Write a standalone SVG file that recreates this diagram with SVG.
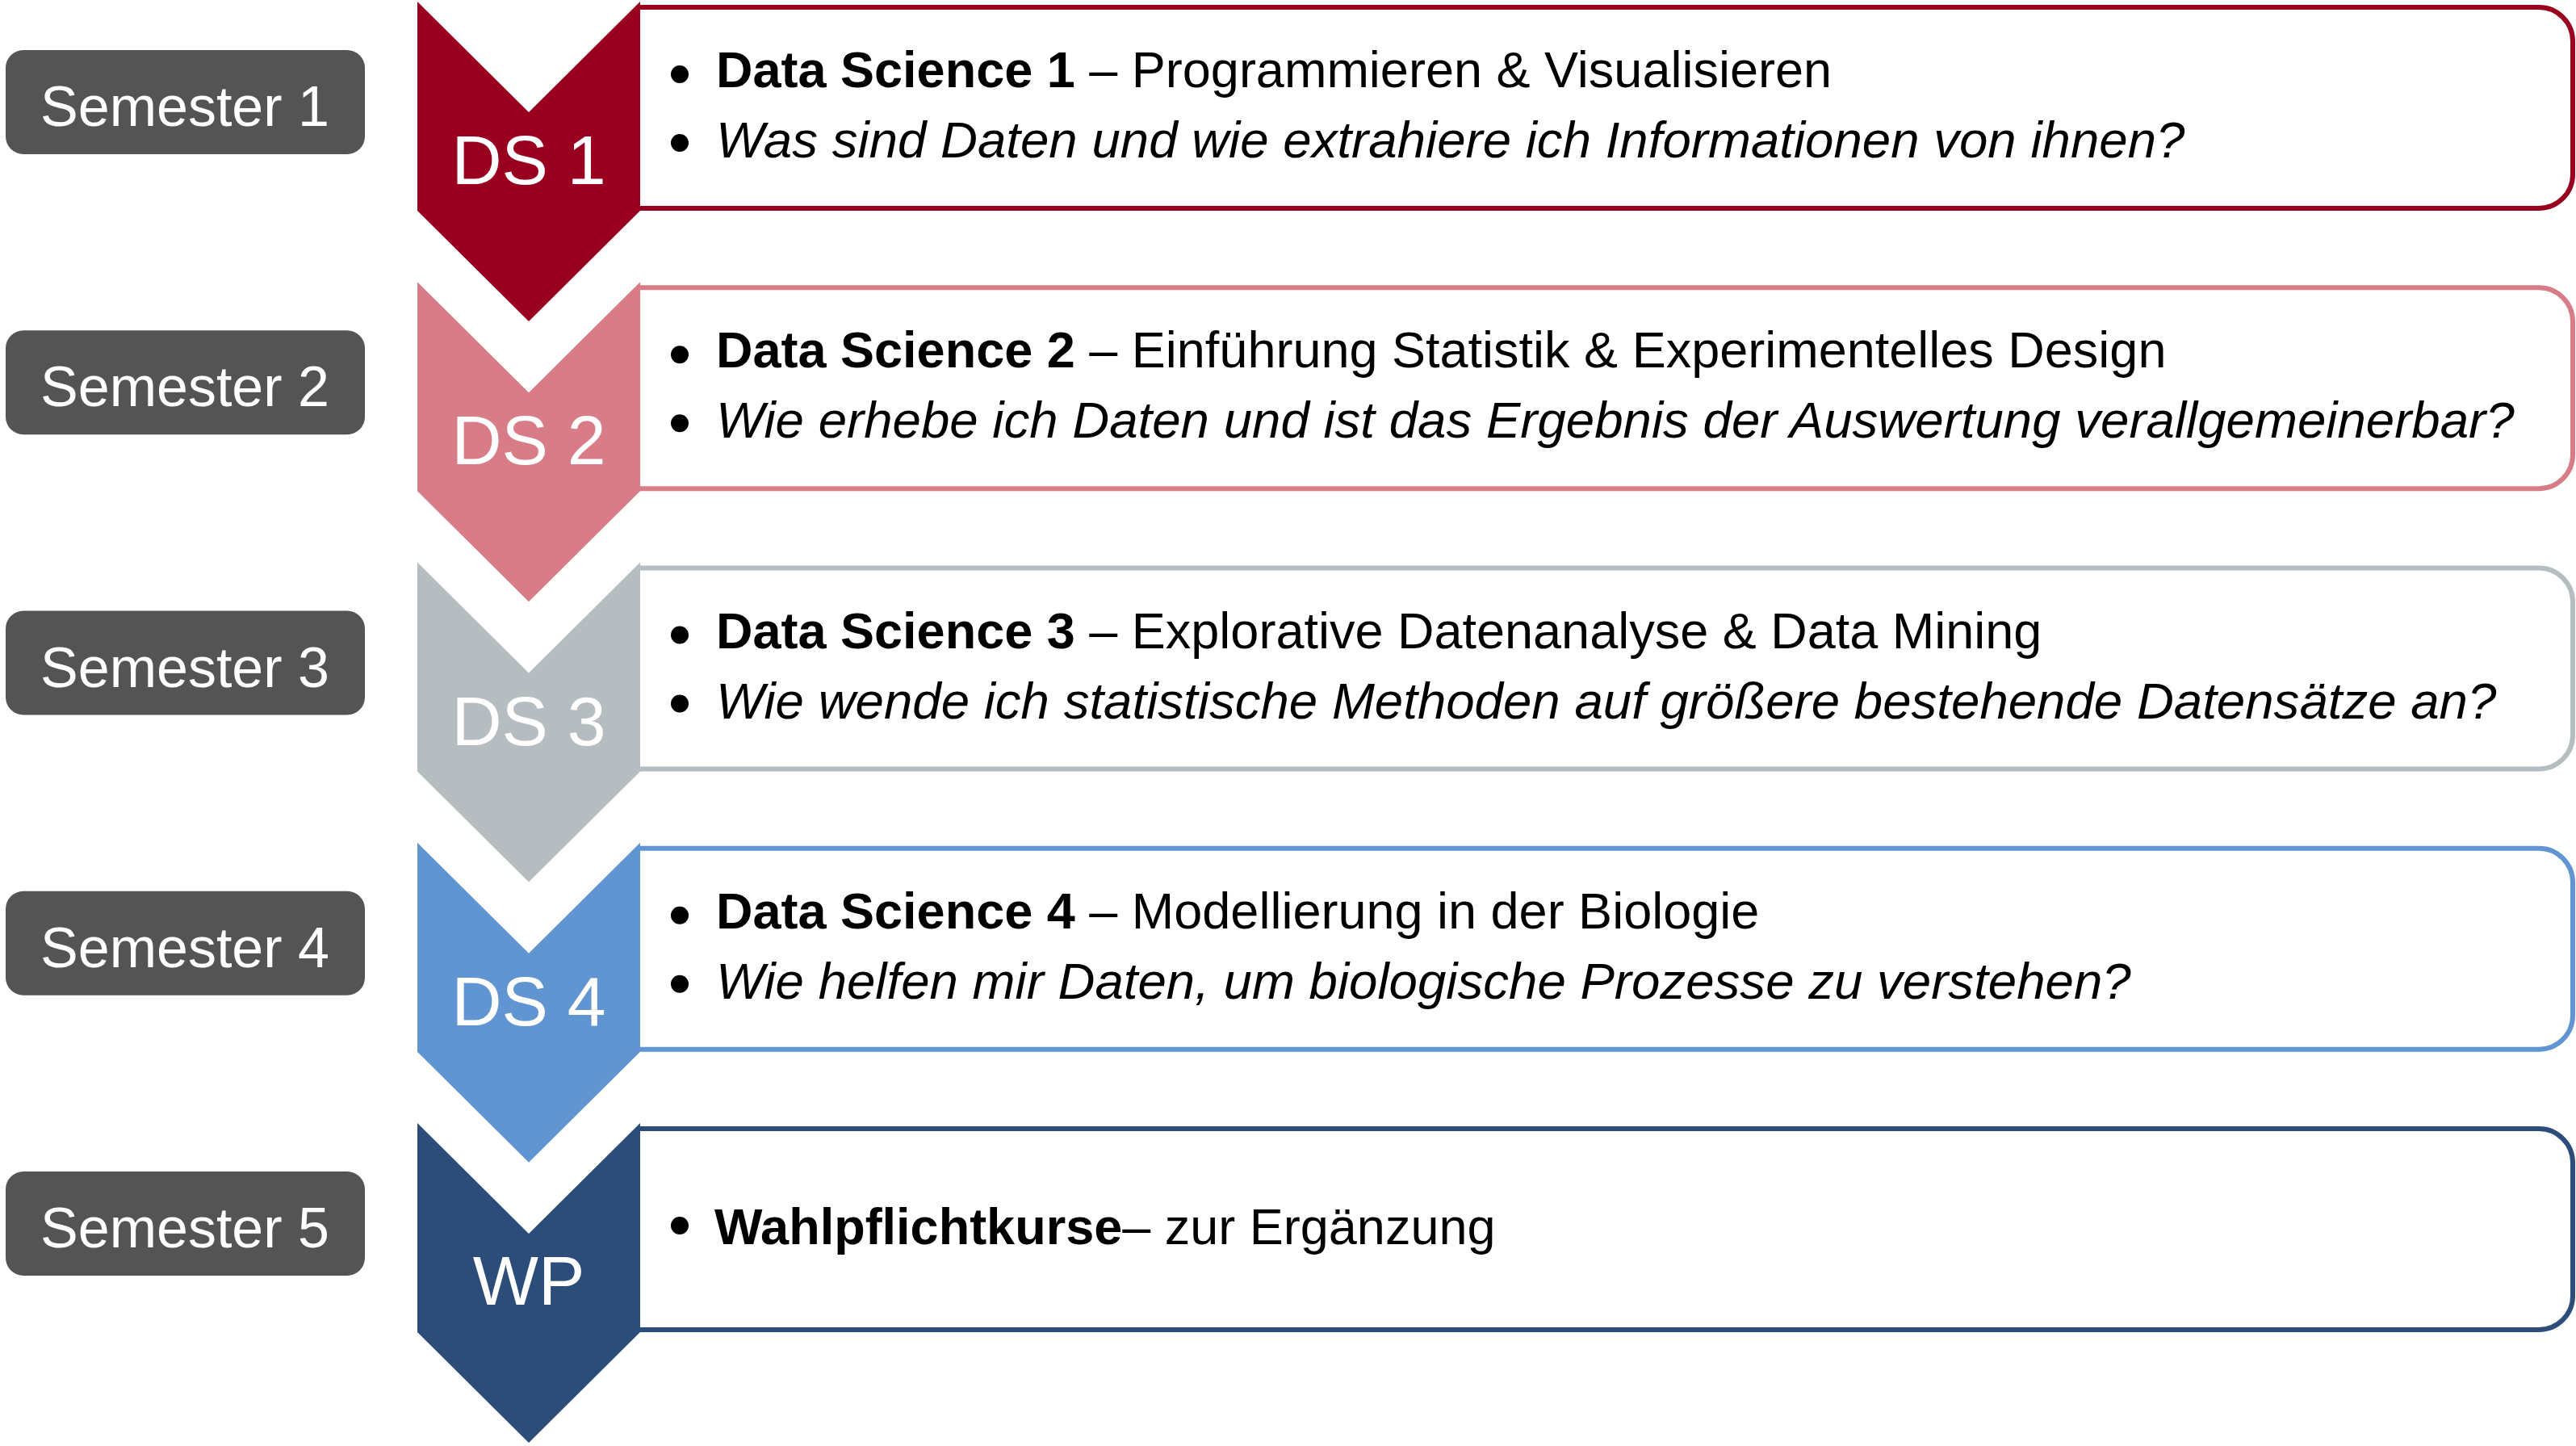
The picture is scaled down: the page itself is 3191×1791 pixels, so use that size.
<svg xmlns="http://www.w3.org/2000/svg" width="3191" height="1791" viewBox="0 0 3191 1791">
<defs>
<style>
.sem rect{fill:#545454}
.sem text{fill:#ffffff;font-family:"Liberation Sans",Arial,sans-serif;font-size:70px;text-anchor:middle}
.chev text{fill:#ffffff;font-family:"Liberation Sans",Arial,sans-serif;font-size:86px;text-anchor:middle}
.box use{fill:#ffffff;stroke-width:6}
.box text{fill:#000000;font-family:"Liberation Sans",Arial,sans-serif;font-size:63px}
.box text.i{font-size:63.6px}
.box circle{fill:#000000}
.b{font-weight:bold}
.i{font-style:italic}
.c1{fill:#99001F}.s1{stroke:#99001F}
.c2{fill:#D87D88}.s2{stroke:#D87D88}
.c3{fill:#B5BDC0}.s3{stroke:#B5BDC0}
.c4{fill:#6095D2}.s4{stroke:#6095D2}
.c5{fill:#2C4D79}.s5{stroke:#2C4D79}
</style>
<path id="chevShape" d="M517 2 L655 139 L793 2 L793 261 L655 398 L517 261 Z"/>
<path id="boxShape" d="M793 9 H3145 A42 42 0 0 1 3187 51 V216 A42 42 0 0 1 3145 258 H793"/>
</defs>
<rect width="3191" height="1791" fill="#ffffff"/>

<!-- Row 1 -->
<g transform="translate(0,0)">
<g id="semester1" class="sem"><rect x="7" y="62" width="445" height="129" rx="22"/><text x="229" y="156">Semester 1</text></g>
<g id="box1" class="box"><use href="#boxShape" class="s1"/>
<circle cx="842" cy="92" r="11"/><text x="887" y="108"><tspan class="b">Data Science 1</tspan> – Programmieren &amp; Visualisieren</text>
<circle cx="842" cy="177" r="11"/><text x="887" y="195" class="i">Was sind Daten und wie extrahiere ich Informationen von ihnen?</text></g>
<g id="ds1" class="chev"><use href="#chevShape" class="c1"/><text x="655" y="228">DS 1</text></g>
</g>

<!-- Row 2 -->
<g transform="translate(0,347.25)">
<g id="semester2" class="sem"><rect x="7" y="62" width="445" height="129" rx="22"/><text x="229" y="156">Semester 2</text></g>
<g id="box2" class="box"><use href="#boxShape" class="s2"/>
<circle cx="842" cy="92" r="11"/><text x="887" y="108"><tspan class="b">Data Science 2</tspan> – Einführung Statistik &amp; Experimentelles Design</text>
<circle cx="842" cy="177" r="11"/><text x="887" y="195" class="i">Wie erhebe ich Daten und ist das Ergebnis der Auswertung verallgemeinerbar?</text></g>
<g id="ds2" class="chev"><use href="#chevShape" class="c2"/><text x="655" y="228">DS 2</text></g>
</g>

<!-- Row 3 -->
<g transform="translate(0,694.5)">
<g id="semester3" class="sem"><rect x="7" y="62" width="445" height="129" rx="22"/><text x="229" y="156">Semester 3</text></g>
<g id="box3" class="box"><use href="#boxShape" class="s3"/>
<circle cx="842" cy="92" r="11"/><text x="887" y="108"><tspan class="b">Data Science 3</tspan> – Explorative Datenanalyse &amp; Data Mining</text>
<circle cx="842" cy="177" r="11"/><text x="887" y="195" class="i">Wie wende ich statistische Methoden auf größere bestehende Datensätze an?</text></g>
<g id="ds3" class="chev"><use href="#chevShape" class="c3"/><text x="655" y="228">DS 3</text></g>
</g>

<!-- Row 4 -->
<g transform="translate(0,1041.75)">
<g id="semester4" class="sem"><rect x="7" y="62" width="445" height="129" rx="22"/><text x="229" y="156">Semester 4</text></g>
<g id="box4" class="box"><use href="#boxShape" class="s4"/>
<circle cx="842" cy="92" r="11"/><text x="887" y="108"><tspan class="b">Data Science 4</tspan> – Modellierung in der Biologie</text>
<circle cx="842" cy="177" r="11"/><text x="887" y="195" class="i">Wie helfen mir Daten, um biologische Prozesse zu verstehen?</text></g>
<g id="ds4" class="chev"><use href="#chevShape" class="c4"/><text x="655" y="228">DS 4</text></g>
</g>

<!-- Row 5 -->
<g transform="translate(0,1389)">
<g id="semester5" class="sem"><rect x="7" y="62" width="445" height="129" rx="22"/><text x="229" y="156">Semester 5</text></g>
<g id="box5" class="box"><use href="#boxShape" class="s5"/>
<circle cx="842" cy="129" r="11"/><text x="885" y="152"><tspan class="b">Wahlpflichtkurse</tspan>– zur Ergänzung</text></g>
<g id="wp" class="chev"><use href="#chevShape" class="c5"/><text x="655" y="227">WP</text></g>
</g>

<g id="connectors"></g>
</svg>
